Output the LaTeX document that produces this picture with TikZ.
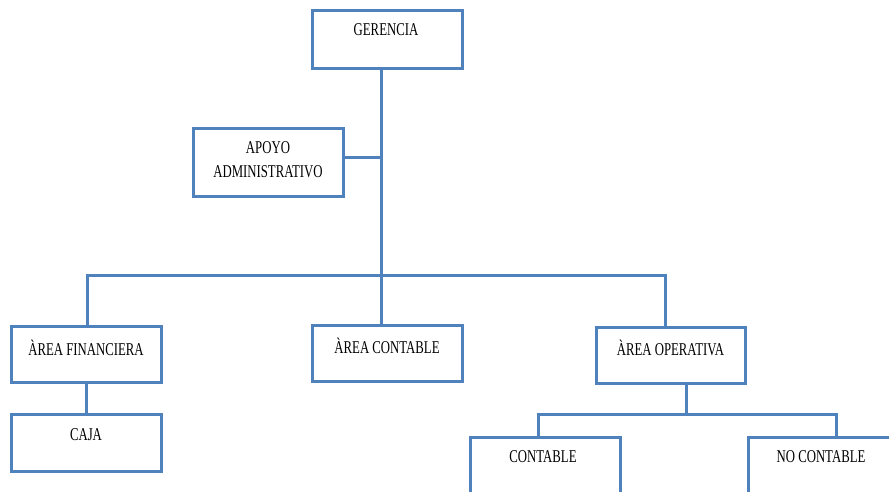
\documentclass[tikz,border=0pt]{standalone}
\usepackage{fontspec}
\setmainfont{Liberation Serif}
\definecolor{ob}{RGB}{79,129,189}
\newcommand{\nx}[1]{\scalebox{0.71}[1]{#1}}
\begin{document}
\begin{tikzpicture}[x=1pt,y=-1pt,
 box/.style={draw=ob, line width=3pt, rectangle, inner sep=0pt, minimum width=150pt},
 conn/.style={draw=ob, line width=3pt},
 txt/.style={font=\fontsize{18}{24}\selectfont, align=center, inner sep=0pt}]
\useasboundingbox (0,0) rectangle (889,491);
\clip (0,0) rectangle (889,491);
% boxes
\node[box, minimum height=58pt] (ger) at (387,39) {};
\node[box, minimum height=68pt] (apo) at (268,162) {};
\node[box, minimum height=56pt] (fin) at (86,354) {};
\node[box, minimum height=56pt] (are) at (387,353) {};
\node[box, minimum width=149pt, minimum height=56pt] (ope) at (670.5,355) {};
\node[box, minimum height=57pt] (caj) at (86,442.5) {};
\node[box, minimum height=90pt] (cnt) at (545,482) {};
\node[box, minimum height=90pt] (noc) at (823,482) {};
% texts
\node[txt] (gerT) at (386,30) {\nx{GERENCIA}};
\node[txt] (apoT) at (268,160) {\nx{APOYO}\\\nx{ADMINISTRATIVO}};
\node[txt] (finT) at (86,348) {\nx{ÀREA FINANCIERA}};
\node[txt] (areT) at (387,346) {\nx{ÀREA CONTABLE}};
\node[txt] (opeT) at (670.5,348) {\nx{ÀREA OPERATIVA}};
\node[txt] (cajT) at (86,435) {\nx{CAJA}};
\node[txt] (cntT) at (543,457) {\nx{CONTABLE}};
\node[txt] (nocT) at (821,457) {\nx{NO CONTABLE}};
% connectors
\coordinate (bus) at (381,275);
\coordinate (bus2) at (686,414);
\draw[conn] (bus |- ger.south) -- (bus);
\draw[conn] ([yshift=5pt]apo.east) -- ([yshift=5pt]apo.east -| bus);
\draw[conn] ([xshift=1pt]fin.north) |- (bus) -| ([xshift=-5.5pt]ope.north);
\draw[conn] (bus) -- (bus |- are.north);
\draw[conn] (fin.south) -- (caj.north);
\draw[conn] (bus2 |- ope.south) -- (bus2);
\draw[conn] ([xshift=-7pt]cnt.north) |- (bus2) -| ([xshift=13pt]noc.north);
\end{tikzpicture}
\end{document}
